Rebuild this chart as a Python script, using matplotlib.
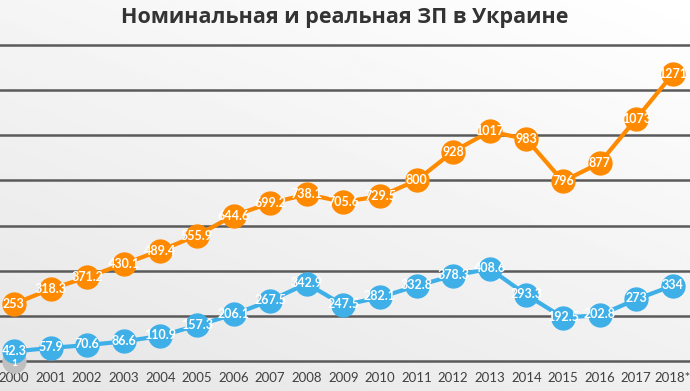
import numpy as np
import matplotlib
matplotlib.use("Agg")
import matplotlib.pyplot as plt

# Chart data
years = ["2000", "2001", "2002", "2003", "2004", "2005", "2006", "2007", "2008", "2009",
         "2010", "2011", "2012", "2013", "2014", "2015", "2016", "2017", "2018*"]
nominal = [253, 318.3, 371.2, 430.1, 489.4, 555.9, 644.6, 699.2, 738.1, 705.6,
           729.5, 800, 928, 1017, 983, 796, 877, 1073, 1271]
real = [42.3, 57.9, 70.6, 86.6, 110.9, 157.3, 206.1, 267.5, 342.9, 247.5,
        282.1, 332.8, 378.3, 408.6, 293.3, 192.5, 202.8, 273, 334]
extra = [1]  # lone grey point at 2000

orange = "#FF8A00"
blue = "#3FAFE8"
grey = "#BFBFBF"

fig = plt.figure(figsize=(6.9, 3.91), dpi=100)

# light gradient background
bg = fig.add_axes([0, 0, 1, 1], zorder=-10)
yy, xx = np.mgrid[0:1:200j, 0:1:200j]
grad = 0.90 + 0.10 * (0.6 * yy + 0.4 * xx)
bg.imshow(grad, cmap="gray", vmin=0, vmax=1, aspect="auto", origin="lower",
          extent=[0, 1, 0, 1])
bg.axis("off")

ax = fig.add_axes([0, 30 / 391, 1, 316 / 391])
ax.patch.set_alpha(0)
x = np.arange(len(years))

ax.plot(x, nominal, color=orange, lw=3, marker="o", ms=16.5, zorder=3, clip_on=False)
ax.plot(x, real, color=blue, lw=3, marker="o", ms=16.5, zorder=3, clip_on=False)
ax.plot(x[:len(extra)], extra, color=grey, lw=0, marker="o", ms=16.5, zorder=2,
        clip_on=False)

lab = dict(color="white", fontsize=9, fontweight="bold", family="Lato",
           ha="center", va="center", zorder=5)
for xi, v in zip(x, nominal):
    ax.text(xi, v, f"{v:g}", **lab)
for xi, v in zip(x, real):
    ax.text(xi, v + 4, f"{v:g}", **lab)
for xi, v in zip(x, extra):
    ax.text(xi, v - 14, f"{v:g}", **dict(lab, fontsize=7.5))

ax.set_xlim(-0.38, 18.47)
ax.set_ylim(0, 1400)
for yv in np.arange(0, 1401, 200):
    ax.axhline(yv, color="#5a5a5a", lw=1.8, zorder=1, clip_on=False)
ax.set_yticks([])
ax.set_xticks(x)
ax.set_xticklabels(years, fontsize=9.5, color="#404040", family="Lato")
ax.tick_params(axis="x", length=0, pad=8)
for s in ax.spines.values():
    s.set_visible(False)

fig.text(0.5, 0.955, "Номинальная и реальная ЗП в Украине", ha="center", va="center",
         fontsize=15.5, fontweight="bold", color="#333333", family="Open Sans")

fig.savefig("out.png", dpi=100)
